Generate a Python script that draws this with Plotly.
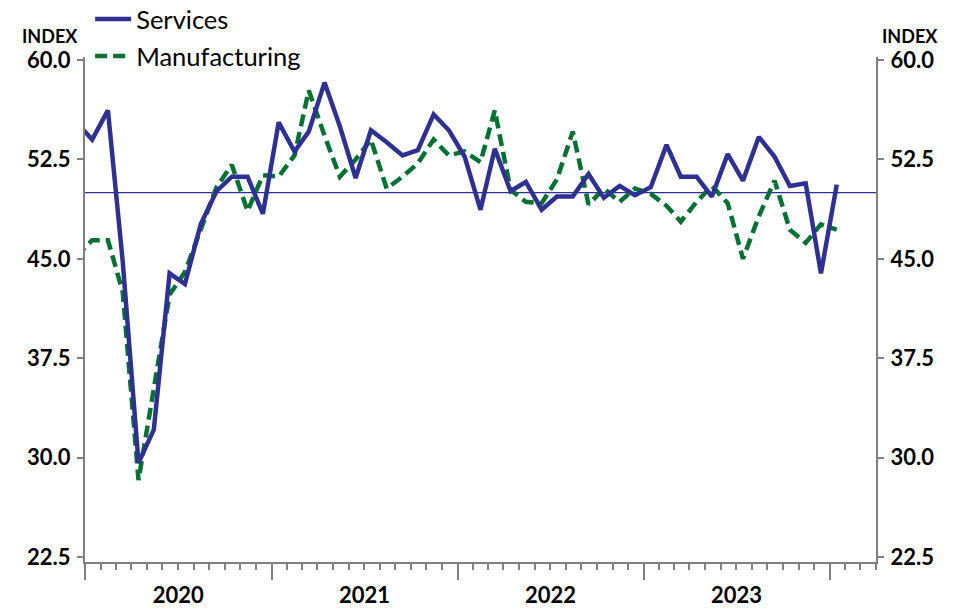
import pandas as pd
import plotly.graph_objects as go

# Monthly observations, Dec 2019 - Jan 2024 (plotted at mid-month)
months = pd.date_range("2019-12-01", periods=50, freq="MS") + pd.Timedelta(days=14)

services = [
    55.3,
    54.0, 56.2, 44.8, 29.6, 32.1, 43.9, 43.1, 47.6, 50.1, 51.2, 51.2, 48.4,
    55.3, 53.1, 54.6, 58.3, 55.0, 51.1, 54.7, 53.8, 52.8, 53.2, 55.9, 54.7,
    52.7, 48.7, 53.3, 50.1, 50.8, 48.7, 49.7, 49.7, 51.4, 49.6, 50.5, 49.8,
    50.4, 53.6, 51.2, 51.2, 49.7, 52.9, 50.9, 54.2, 52.7, 50.5, 50.7, 43.9,
    50.6,
]

manufacturing = [
    45.2,
    46.4, 46.4, 42.5, 28.3, 35.0, 42.3, 44.0, 47.3, 50.4, 52.1, 48.6, 51.3,
    51.2, 52.8, 57.7, 54.3, 51.2, 52.5, 54.0, 50.3, 51.2, 52.2, 54.0, 52.8,
    53.1, 52.3, 56.2, 50.2, 49.3, 49.2, 51.0, 54.6, 49.1, 50.3, 49.3, 50.3,
    49.9, 49.0, 47.8, 49.3, 50.5, 49.2, 45.0, 48.2, 50.9, 47.2, 46.2, 47.6,
    47.2,
]

y_ticks = [22.5, 30.0, 37.5, 45.0, 52.5, 60.0]
y_tick_text = ["22.5", "30.0", "37.5", "45.0", "52.5", "60.0"]
reference_level = 50.0

NAVY = "#2E3192"
GREEN = "#007033"
AXIS = "#808080"
FONT = "Lato"

fig = go.Figure()
# Services on the overlaying right-hand axis (same scale) so it draws on top
fig.add_trace(go.Scatter(
    x=months, y=services, name="Services", mode="lines",
    legendgroup="s", yaxis="y2",
    line=dict(color=NAVY, width=4.5),
))
fig.add_trace(go.Scatter(
    x=months, y=manufacturing, name="Manufacturing", mode="lines",
    legendgroup="m", yaxis="y",
    line=dict(color=GREEN, width=4.5, dash="12px,6px"),
))

fig.add_shape(type="line", xref="paper", x0=0, x1=1, yref="y", y0=reference_level, y1=reference_level,
              line=dict(color=NAVY, width=1.3), layer="below")

yrange = [22.12, 60.23]
tickfont = dict(family=FONT, size=22, color="black", weight="bold")

yax = dict(
    range=yrange, tickvals=y_ticks, ticktext=y_tick_text,
    showline=True, linecolor=AXIS, linewidth=2,
    ticks="outside", ticklen=6, tickwidth=1.5, tickcolor=AXIS,
    showgrid=False, zeroline=False, tickfont=tickfont, fixedrange=True,
    automargin=False, ticklabelstandoff=2,
)

fig.update_layout(
    width=962, height=608,
    margin=dict(l=77, r=94, t=49, b=54, autoexpand=False),
    paper_bgcolor="white", plot_bgcolor="white",
    font=dict(family=FONT, color="black"),
    xaxis=dict(
        type="date", range=["2020-01-01", "2024-04-01"],
        showline=True, linecolor=AXIS, linewidth=2,
        ticks="outside", ticklen=16, tickwidth=1.5, tickcolor=AXIS,
        dtick="M12", tick0="2020-01-01", tickformat="%Y", ticklabelmode="period",
        showgrid=False, zeroline=False, tickfont=dict(tickfont, size=22),
        automargin=False, ticklabelstandoff=-3,
        minor=dict(dtick="M1", ticks="outside", ticklen=6, tickwidth=1.5,
                   tickcolor=AXIS, showgrid=False),
    ),
    yaxis=yax,
    yaxis2=dict(yax, overlaying="y", side="right"),
    legend=dict(
        x=0.0065, y=1.121, xanchor="left", yanchor="top",
        font=dict(family=FONT, size=25.5, color="black"),
        bgcolor="rgba(0,0,0,0)", tracegroupgap=1, traceorder="grouped",
        itemwidth=36,
    ),
    showlegend=True,
)

idx_font = dict(family=FONT, size=18, color="black", weight="bold")
fig.add_annotation(text="INDEX", xref="paper", yref="paper", x=(50 - 85) / 791, y=1 + 21 / 505,
                   showarrow=False, font=idx_font, xanchor="center", yanchor="middle")
fig.add_annotation(text="INDEX", xref="paper", yref="paper", x=(910 - 85) / 791, y=1 + 21 / 505,
                   showarrow=False, font=idx_font, xanchor="center", yanchor="middle")

fig.write_html("out.html")
